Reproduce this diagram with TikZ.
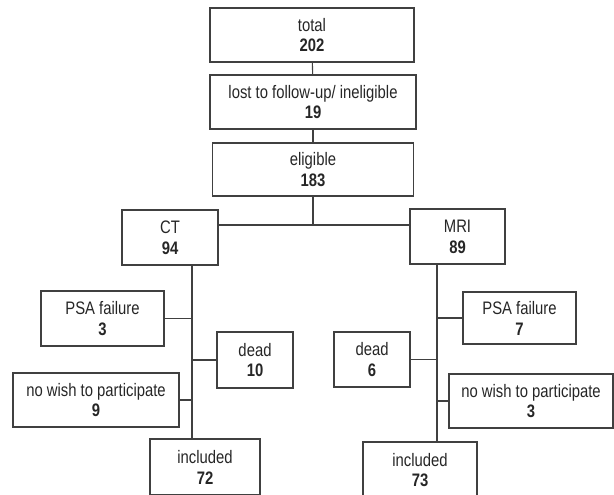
\documentclass[tikz,border=0pt]{standalone}
\usepackage{fontspec}
\setmainfont{Liberation Sans}[FakeStretch=0.82]
\tikzset{
  box/.style={draw=black!75, line width=0.6pt, align=center, inner sep=0pt,
    text=black!85, font=\fontsize{10.3}{11.9}\selectfont},
  link/.style={draw=black!75, line width=0.6pt}
}
\begin{document}
\begin{tikzpicture}[x=0.02cm, y=-0.02cm]
\useasboundingbox (0,0) rectangle (614,494);
\node[box, minimum width=4.08cm, minimum height=1.08cm] (total) at (312,35) {total\\\textbf{202}};
\node[box, minimum width=4.12cm, minimum height=1.08cm] (lost) at (313,102) {lost to follow-up/ ineligible\\\textbf{19}};
\node[box, minimum width=4.02cm, minimum height=1.06cm] (eligible) at (313,169.5) {eligible\\\textbf{183}};
\node[box, minimum width=1.92cm, minimum height=1.1cm] (ct) at (170,237.5) {CT\\\textbf{94}};
\node[box, minimum width=1.9cm, minimum height=1.1cm] (mri) at (457.5,236.5) {MRI\\\textbf{89}};
\node[box, minimum width=2.46cm, minimum height=1.1cm] (psact) at (102.5,318.5) {PSA failure\\\textbf{3}};
\node[box, minimum width=1.52cm, minimum height=1.12cm] (deadct) at (255,360) {dead\\\textbf{10}};
\node[box, minimum width=3.32cm, minimum height=1.08cm] (wishct) at (96,400) {no wish to participate\\\textbf{9}};
\node[box, minimum width=2.2cm, minimum height=1.12cm] (inclct) at (205,467) {included\\\textbf{72}};
\node[box, minimum width=2.26cm, minimum height=1.04cm] (psamri) at (519.5,318) {PSA failure\\\textbf{7}};
\node[box, minimum width=1.52cm, minimum height=1.1cm] (deadmri) at (372,359.5) {dead\\\textbf{6}};
\node[box, minimum width=3.28cm, minimum height=1.08cm] (wishmri) at (531,401) {no wish to participate\\\textbf{3}};
\node[box, minimum width=2.28cm, minimum height=1.12cm] (inclmri) at (420,470) {included\\\textbf{73}};
\coordinate (split) at (313,225);
\coordinate (ctax) at (192,0);
\coordinate (mriax) at (437,0);
\draw[link] (total) -- (lost);
\draw[link] (lost) -- (eligible);
\draw[link] (eligible) -- (split);
\draw[link] (ct.east |- split) -- (mri.west |- split);
\draw[link] (ct.south -| ctax) -- (inclct.north -| ctax);
\draw[link] (psact.east) -- (psact.east -| ctax);
\draw[link] (deadct.west) -- (deadct.west -| ctax);
\draw[link] (wishct.east) -- (wishct.east -| ctax);
\draw[link] (mri.south -| mriax) -- (inclmri.north -| mriax);
\draw[link] (psamri.west) -- (psamri.west -| mriax);
\draw[link] (deadmri.east) -- (deadmri.east -| mriax);
\draw[link] (wishmri.west) -- (wishmri.west -| mriax);
\end{tikzpicture}
\end{document}
